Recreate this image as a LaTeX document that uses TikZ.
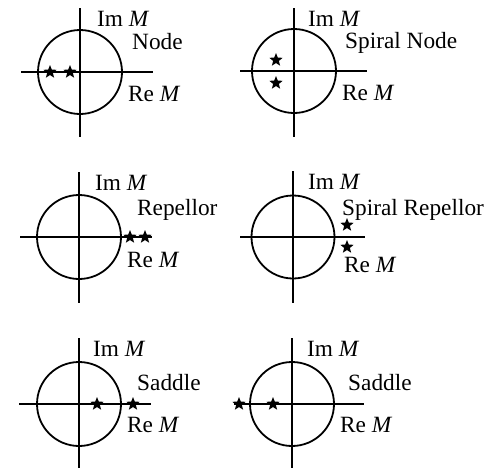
\documentclass[tikz,border=0pt]{standalone}
\usepackage{fontspec}
\setmainfont{Liberation Serif}
\usetikzlibrary{shapes.geometric}
\begin{document}
\begin{tikzpicture}[x=1pt,y=-1pt,
  axisline/.style={line width=1.8pt},
  unitcircle/.style={line width=1.8pt},
  eig/.style={star,star points=5,star point ratio=2.3,fill=black,draw=none,minimum size=14pt,inner sep=0pt},
  lbl/.style={anchor=base west,inner sep=0pt,font=\fontsize{23.3}{27}\selectfont}]
\useasboundingbox (0,0) rectangle (491,469);
% panel 1: Node
\coordinate (c1) at (80,72);
\draw[axisline] (80,8) -- (80,137);
\draw[axisline] (21,72) -- (153,72);
\draw[unitcircle] (c1) circle (42);
\node[eig] (s1a) at (50,72) {};
\node[eig] (s1b) at (70,72) {};
\node[lbl] (im1) at (97,26) {Im \textit{M}};
\node[lbl] (t1) at (132,49) {Node};
\node[lbl] (re1) at (128,101) {Re \textit{M}};
% panel 2: Spiral Node
\coordinate (c2) at (294,71);
\draw[axisline] (294,8) -- (294,137);
\draw[axisline] (240,71) -- (367,71);
\draw[unitcircle] (c2) circle (42);
\node[eig] (s2a) at (276,60) {};
\node[eig] (s2b) at (276,83) {};
\node[lbl] (im2) at (308,26) {Im \textit{M}};
\node[lbl] (t2) at (345,48) {Spiral Node};
\node[lbl] (re2) at (342,100) {Re \textit{M}};
% panel 3: Repellor
\coordinate (c3) at (79,237);
\draw[axisline] (79,172) -- (79,303);
\draw[axisline] (20,237) -- (152,237);
\draw[unitcircle] (c3) circle (42);
\node[eig] (s3a) at (130,237) {};
\node[eig] (s3b) at (145,237) {};
\node[lbl] (im3) at (95,190) {Im \textit{M}};
\node[lbl] (t3) at (137,215) {Repellor};
\node[lbl] (re3) at (127,267) {Re \textit{M}};
% panel 4: Spiral Repellor
\coordinate (c4) at (293,237);
\draw[axisline] (293,171) -- (293,303);
\draw[axisline] (240,237) -- (365,237);
\draw[unitcircle] (c4) circle (41.5);
\node[eig] (s4a) at (347,225) {};
\node[eig] (s4b) at (347,247) {};
\node[lbl] (im4) at (308,189) {Im \textit{M}};
\node[lbl] (t4) at (342,215) {Spiral Repellor};
\node[lbl] (re4) at (344,272) {Re \textit{M}};
% panel 5: Saddle
\coordinate (c5) at (79,404);
\draw[axisline] (79,338) -- (79,468);
\draw[axisline] (19,404) -- (151,404);
\draw[unitcircle] (c5) circle (42);
\node[eig] (s5a) at (97,404) {};
\node[eig] (s5b) at (133,404) {};
\node[lbl] (im5) at (93,356) {Im \textit{M}};
\node[lbl] (t5) at (137,390) {Saddle};
\node[lbl] (re5) at (127,432) {Re \textit{M}};
% panel 6: Saddle
\coordinate (c6) at (292,404);
\draw[axisline] (292,338) -- (292,468);
\draw[axisline] (234,404) -- (364,404);
\draw[unitcircle] (c6) circle (42);
\node[eig] (s6a) at (239,404) {};
\node[eig] (s6b) at (273,404) {};
\node[lbl] (im6) at (307,356) {Im \textit{M}};
\node[lbl] (t6) at (348,390) {Saddle};
\node[lbl] (re6) at (340,432) {Re \textit{M}};
\end{tikzpicture}
\end{document}
